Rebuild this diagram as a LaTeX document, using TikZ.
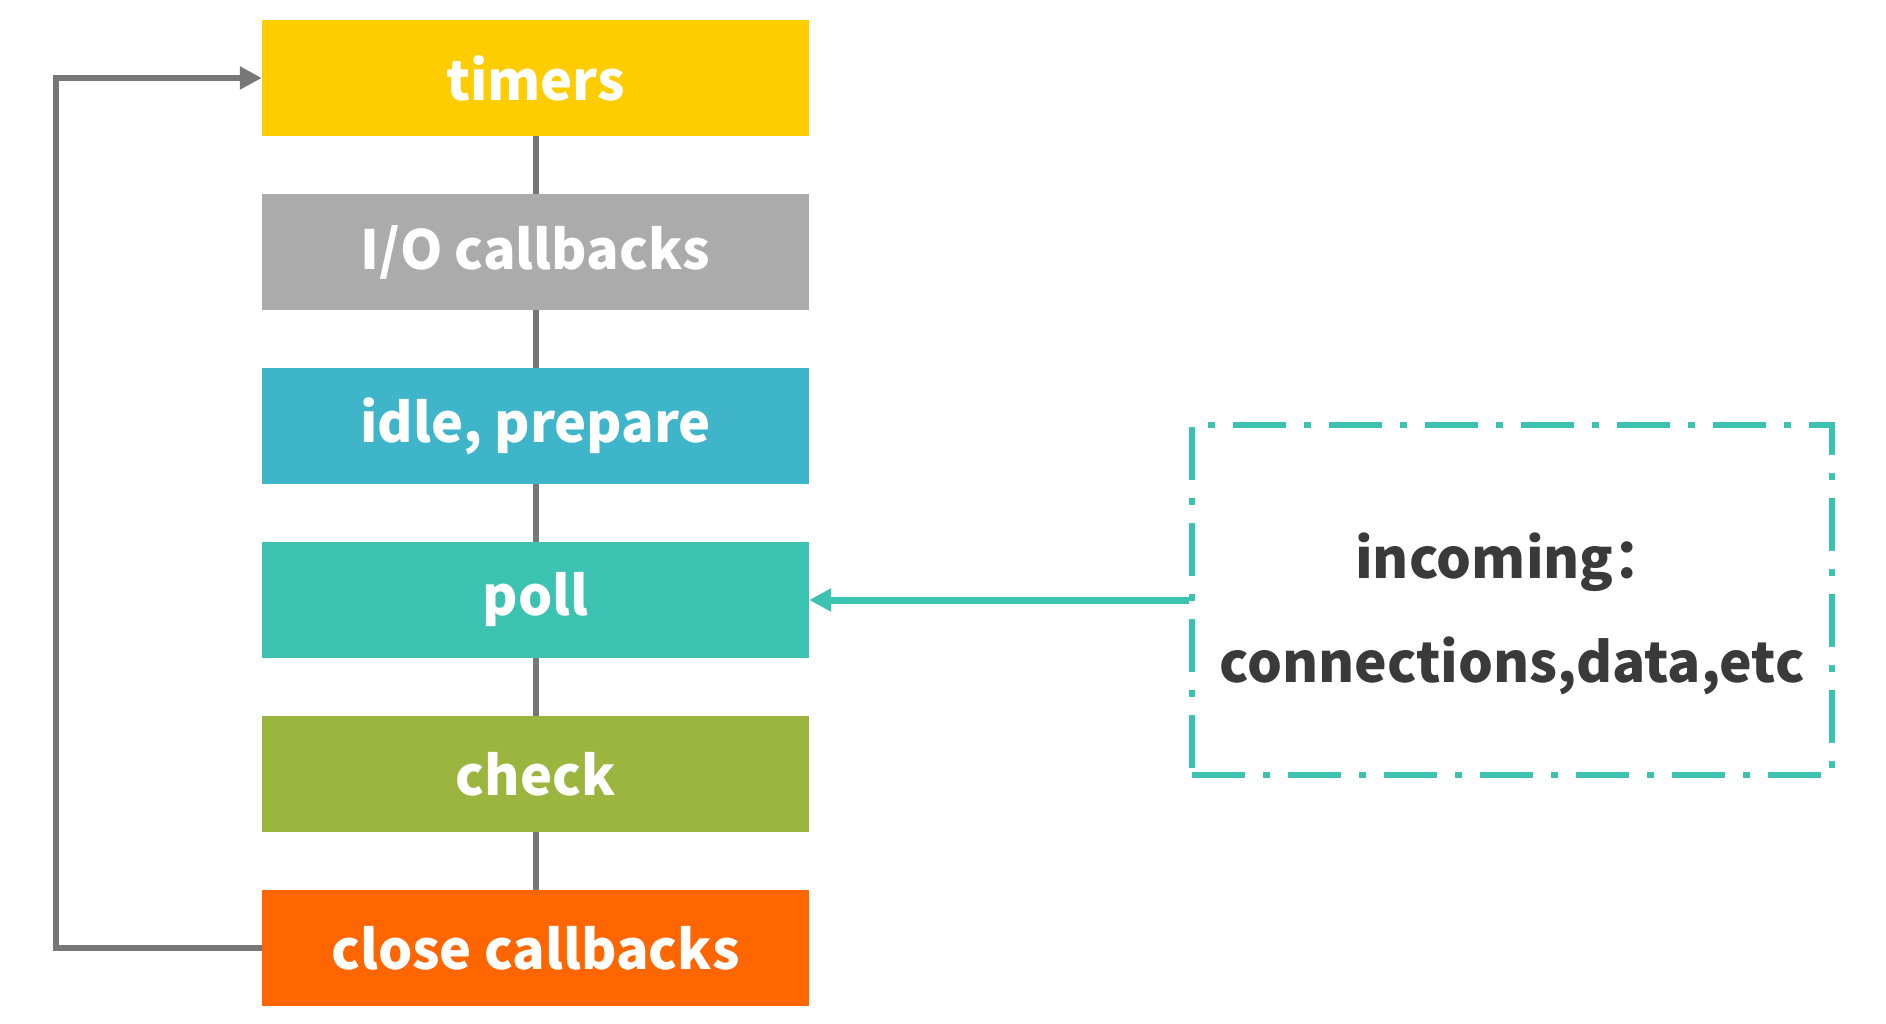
\documentclass[tikz,border=0pt]{standalone}
\usepackage{fontspec}
\setmainfont{Noto Sans CJK SC}
\usetikzlibrary{arrows.meta}
\definecolor{timergelb}{HTML}{FFCC00}
\definecolor{iograu}{HTML}{ABABAB}
\definecolor{idleblau}{HTML}{3EB5C9}
\definecolor{pollgruen}{HTML}{3CC2B0}
\definecolor{checkgruen}{HTML}{9BB53F}
\definecolor{closeorange}{HTML}{FF6600}
\definecolor{liniengrau}{HTML}{777777}
\definecolor{textgrau}{HTML}{3A3A3A}
\begin{document}
\begin{tikzpicture}[x=1pt,y=-1pt,
	phase/.style={minimum width=547pt,minimum height=116pt,inner sep=0pt,text=white,font=\bfseries\fontsize{54}{54}\selectfont},
	verbinder/.style={draw=liniengrau,line width=6pt},
	eingangtext/.style={text=textgrau,font=\bfseries\fontsize{55}{104}\selectfont,align=center,yshift=-14pt}]
		\useasboundingbox (0,0) rectangle (1886,1024);
		%%%% Phasen der Schleife
		\foreach \name/\txt/\farbe [count=\i from 0] in {timers/timers/timergelb,io/{I/O callbacks}/iograu,idle/{idle, prepare}/idleblau,poll/poll/pollgruen,check/check/checkgruen,close/{close callbacks}/closeorange} {
			\node[phase,fill=\farbe] (\name) at (535.5,78+174*\i) {\txt};
		}
		% Verbindungen
		\foreach \a/\b in {timers/io,io/idle,idle/poll,poll/check,check/close} {
			\draw[verbinder] (\a) -- (\b);
		}
		% Rueckfuehrung
		\draw[verbinder,-{Triangle[length=22pt,width=22pt]}] (close.west) -- ++(-206,0) |- (timers.west);
		%%%% Eingang
		\node[draw=pollgruen,line width=6.5pt,dash pattern=on 53pt off 18pt on 7pt off 18pt,minimum width=640pt,minimum height=350pt,inner sep=0pt,
			label={[eingangtext]center:{incoming：\\connections,data,etc}}] (incoming) at (1512,600) {};
		\draw[line width=7pt,draw=pollgruen,-{Triangle[length=22pt,width=22pt]}] (incoming.west) -- (poll.east);
\end{tikzpicture}
\end{document}
